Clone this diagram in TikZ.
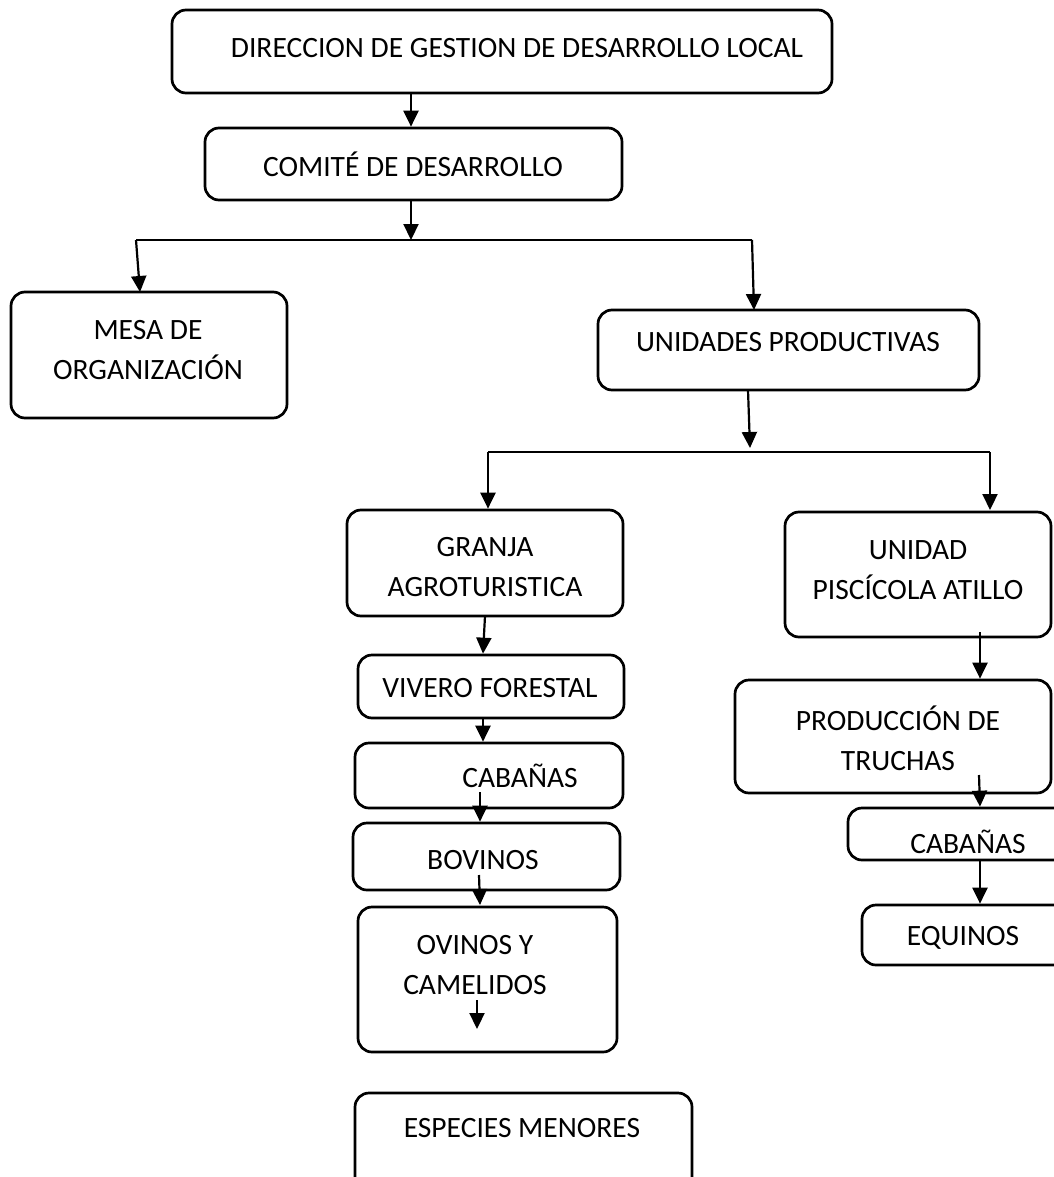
\documentclass[tikz,border=0pt]{standalone}
\usepackage{fontspec}
\setmainfont{Carlito}
\usetikzlibrary{arrows.meta}
\tikzset{
    every node/.style={font=\fontsize{29.5}{40}\selectfont, align=center}
}
\tikzset{
    box/.style={draw, line width=2.7pt, rounded corners=14pt, inner sep=0pt}
}
\tikzset{
    arr/.style={line width=2.2pt, -{Triangle[length=16pt,width=15pt]}}
}

\begin{document}
\begin{tikzpicture}[x=1pt, y=-1pt]
	\useasboundingbox (0,0) rectangle (1053,1177);
	% boxes
	\node (top) [box, minimum width=660, minimum height=83] at (502,51.5) {};
	\node (com) [box, minimum width=417, minimum height=72] at (413.5,164) {};
	\node (mesa) [box, minimum width=276, minimum height=126] at (149,355) {};
	\node (unid) [box, minimum width=381, minimum height=80] at (788.5,350) {};
	\node (granja) [box, minimum width=276, minimum height=106] at (485,563) {};
	\node (pisc) [box, minimum width=266, minimum height=125] at (918,574.5) {};
	\node (viv) [box, minimum width=266, minimum height=63] at (491,686.5) {};
	\node (cab1) [box, minimum width=268, minimum height=65] at (489,775.5) {};
	\node (bov) [box, minimum width=267, minimum height=67] at (486.5,856.5) {};
	\node (ovi) [box, minimum width=259, minimum height=145] at (487.5,979.5) {};
	\node (esp) [box, minimum width=337, minimum height=97] at (523.5,1141.5) {};
	\node (prod) [box, minimum width=316, minimum height=113] at (893,736.5) {};
	\node (cab2) [box, minimum width=222, minimum height=52] at (959,834) {};
	\node (equ) [box, minimum width=208, minimum height=60] at (966,935) {};

	% texts
	\node (top-t) at (517,48) {DIRECCION DE GESTION DE DESARROLLO LOCAL};
	\node (com-t) at (413,164) {COMITÉ DE DESARROLLO};
	\node (mesa-t) at (148,350) {MESA DE\\ORGANIZACIÓN};
	\node (unid-t) at (788,342) {UNIDADES PRODUCTIVAS};
	\node (granja-t) at (485,567) {GRANJA\\AGROTURISTICA};
	\node (pisc-t) at (918,570) {UNIDAD\\PISCÍCOLA ATILLO};
	\node (viv-t) at (490,688) {VIVERO FORESTAL};
	\node (cab1-t) at (520,776) {CABAÑAS};
	\node (bov-t) at (483,860) {BOVINOS};
	\node (ovi-t) at (475,965) {OVINOS Y\\CAMELIDOS};
	\node (esp-t) at (522,1128) {ESPECIES MENORES};
	\node (prod-t) at (898,738) {PRODUCCIÓN DE\\TRUCHAS};
	\node (cab2-t) at (968,842) {CABAÑAS};
	\node (equ-t) at (963,938) {EQUINOS};

	% junctions
	\coordinate (b1) at (411,240); \coordinate (b1l) at (136,240); \coordinate (b1r) at (752,240);
	\coordinate (b2) at (750,452); \coordinate (b2l) at (488,452); \coordinate (b2r) at (990,452);
	\coordinate (c1) at (480,792); \coordinate (c2) at (479,875);
	\coordinate (o1) at (477,1000); \coordinate (o2) at (477,1029);
	\coordinate (p1) at (980,632); \coordinate (p2) at (979,775);

	\draw [arr] (top.south -| b1) -- (com.north -| b1);
	\draw [arr] (com.south -| b1) -- (b1);
	\draw [line width=2.7pt] (b1l) -- (b1r);
	\draw [arr] (b1l) -- (140,292);
	\draw [arr] (b1r) -- (754,310);
	\draw [arr] (748,390) -- (750,448);
	\draw [line width=2.7pt] (b2l) -- (b2r);
	\draw [arr] (b2l) -- (granja.north -| b2l);
	\draw [arr] (b2r) -- (990,510);
	\draw [arr] (485,616) -- (viv.north -| 483,0);
	\draw [arr] (483,718) -- (cab1.north -| 483,0);
	\draw [arr] (c1) -- (bov.north -| c1);
	\draw [arr] (c2) -- (480,905);
	\draw [arr] (o1) -- (o2);
	\draw [arr] (p1) -- (prod.north -| p1);
	\draw [arr] (p2) -- (cab2.north -| 980,0);
	\draw [arr] (cab2.south -| 980,0) -- (equ.north -| 980,0);
\end{tikzpicture}
\end{document}
